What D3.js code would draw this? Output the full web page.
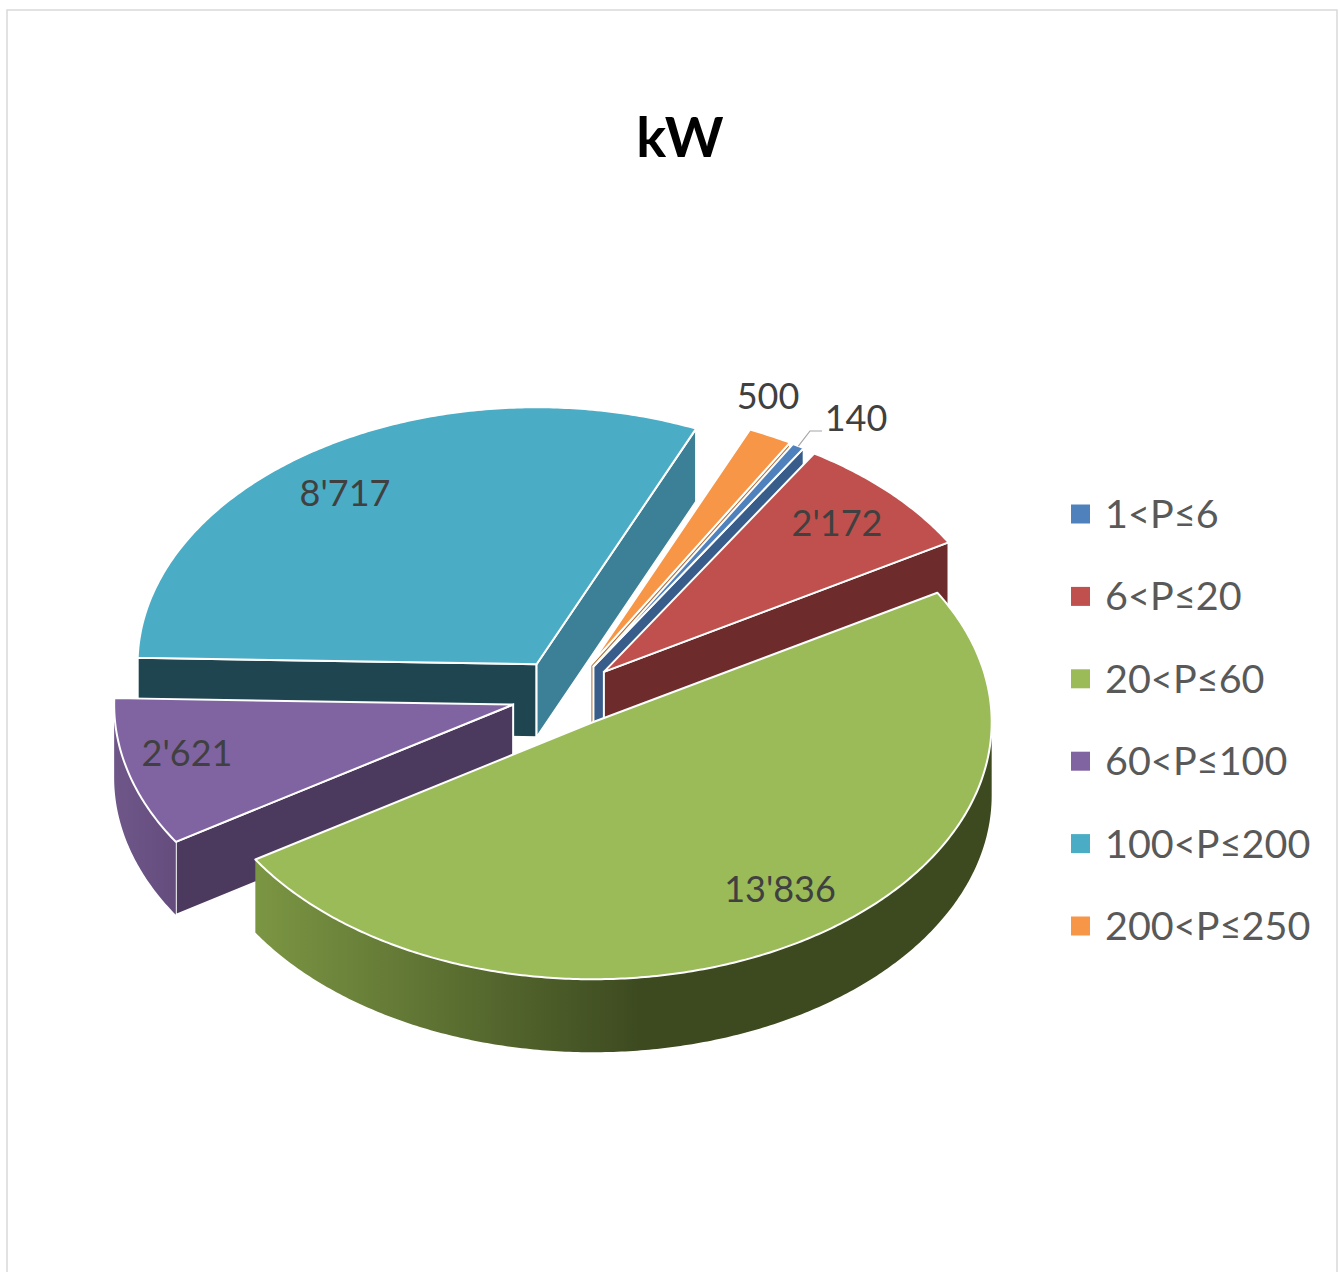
<!DOCTYPE html>
<html lang="en">
<head>
  <meta charset="UTF-8">
  <title>kW</title>
  <style>
    html, body { margin: 0; padding: 0; background: #fff; overflow: hidden; }
    svg { display: block; font-family: Lato, "Open Sans", sans-serif; }
  </style>
</head>
<body>
<div id="chart"></div>

<script src="https://cdnjs.cloudflare.com/ajax/libs/d3/7.8.5/d3.min.js"></script>
<script>
  // data, in legend order
  const categories = ['1<P≤6', '6<P≤20', '20<P≤60', '60<P≤100', '100<P≤200', '200<P≤250'];
  const values = [140, 2172, 13836, 2621, 8717, 500];
  const valueLabels = ["140", "2'172", "13'836", "2'621", "8'717", "500"];

  const topColors = ['#4f81bd', '#c0504d', '#9bbb59', '#8064a2', '#4bacc6', '#f79646'];
  const endColors = ['#385d8a', '#6e2b2b', '#3d4a20', '#4b3a5e', '#3b8096', '#b5763c'];
  const startColors = ['#385d8a', '#6e2b2b', '#3d4a20', '#4b3a5e', '#1f4650', '#b5763c'];

  const width = 1340, height = 1272;
  const center = {x: 567, y: 695}, rx = 399, ry = 257, depth = 73;
  // how far each slice is pulled out, same order as values
  const explode = [0.129, 0.129, 0.124, 0.14, 0.142, 0.13];

  // where the value labels sit (centre of the text), same order as values
  const labelX = [856, 837, 780, 187, 345, 768];
  const labelY = [418, 523, 889, 753, 493, 396];

  const svg = d3.select('#chart').append('svg')
    .attr('width', width)
    .attr('height', height);

  const defs = svg.append('defs');

  // outer wall shading for the two slices that show one
  const wallX = d3.scaleLinear().domain([0, 1]).range([254, 640]);
  const greenWall = defs.append('linearGradient')
    .attr('id', 'wall-2')
    .attr('gradientUnits', 'userSpaceOnUse')
    .attr('x1', wallX(0)).attr('x2', wallX(1)).attr('y1', 0).attr('y2', 0);
  greenWall.append('stop').attr('offset', 0).attr('stop-color', '#7b9643');
  greenWall.append('stop').attr('offset', 1).attr('stop-color', '#3d4a20');

  const purpleWall = defs.append('linearGradient')
    .attr('id', 'wall-3')
    .attr('gradientUnits', 'userSpaceOnUse')
    .attr('x1', 116).attr('x2', 178).attr('y1', 0).attr('y2', 0);
  purpleWall.append('stop').attr('offset', 0).attr('stop-color', '#6e5689');
  purpleWall.append('stop').attr('offset', 1).attr('stop-color', '#644d7d');

  // chart frame, runs off the bottom of the picture
  svg.append('rect')
    .attr('x', 7).attr('y', 10)
    .attr('width', 1330).attr('height', 1300)
    .attr('fill', '#fff')
    .attr('stroke', '#d9d9d9')
    .attr('stroke-width', 1.5);

  svg.append('text')
    .attr('x', 680).attr('y', 157)
    .attr('text-anchor', 'middle')
    .attr('font-size', 56)
    .attr('font-weight', 700)
    .attr('fill', '#000')
    .text('kW');

  // unit circle -> flattened pie
  const xScale = d3.scaleLinear().domain([-1, 1]).range([center.x - rx, center.x + rx]);
  const yScale = d3.scaleLinear().domain([-1, 1]).range([center.y - ry, center.y + ry]);

  const slices = d3.pie()
    .sort(null)
    .startAngle(Math.PI / 6)
    .endAngle(Math.PI / 6 + 2 * Math.PI)(values);

  slices.forEach((s, i) => {
    s.mid = (s.startAngle + s.endAngle) / 2;
    s.ox = explode[i] * Math.sin(s.mid);
    s.oy = -explode[i] * Math.cos(s.mid);
  });

  const project = (s, r, a, drop) => [
    xScale(s.ox + r * Math.sin(a)),
    yScale(s.oy - r * Math.cos(a)) + (drop || 0)
  ];

  const arcPoints = (s, from, to, drop) => {
    const n = Math.max(2, Math.ceil((to - from) / 0.01));
    return d3.range(n + 1).map(i => project(s, 1, from + (to - from) * i / n, drop));
  };

  const line = d3.line();

  // back to front
  const paintOrder = [4, 3, 5, 0, 1, 2];

  paintOrder.forEach(i => {
    const s = slices[i];
    const g = svg.append('g');

    // start cut
    if (Math.sin(s.startAngle) < 0) {
      g.append('path')
        .attr('d', line([
          project(s, 0, 0), project(s, 1, s.startAngle),
          project(s, 1, s.startAngle, depth), project(s, 0, 0, depth)
        ]) + 'Z')
        .attr('fill', startColors[i])
        .attr('stroke', '#fff')
        .attr('stroke-width', 2);
    }
    // end cut
    if (Math.sin(s.endAngle) > 0) {
      g.append('path')
        .attr('d', line([
          project(s, 0, 0), project(s, 1, s.endAngle),
          project(s, 1, s.endAngle, depth), project(s, 0, 0, depth)
        ]) + 'Z')
        .attr('fill', endColors[i])
        .attr('stroke', '#fff')
        .attr('stroke-width', 2);
    }
    // outer wall, only the front half of the rim shows
    const wallFrom = Math.max(s.startAngle, Math.PI / 2);
    const wallTo = Math.min(s.endAngle, 3 * Math.PI / 2);
    if (wallTo > wallFrom) {
      const upper = arcPoints(s, wallFrom, wallTo, 0);
      const lower = arcPoints(s, wallFrom, wallTo, depth).reverse();
      g.append('path')
        .attr('d', line(upper.concat(lower)) + 'Z')
        .attr('fill', 'url(#wall-' + i + ')');
    }
    // top face
    g.append('path')
      .attr('d', line([project(s, 0, 0)].concat(arcPoints(s, s.startAngle, s.endAngle, 0))) + 'Z')
      .attr('fill', topColors[i])
      .attr('stroke', '#fff')
      .attr('stroke-width', 2)
      .attr('stroke-linejoin', 'round');
  });

  // leader line of the small slice
  const leaderStart = project(slices[0], 1, slices[0].mid);
  svg.append('path')
    .attr('d', line([leaderStart, [810, 431], [822, 431]]))
    .attr('fill', 'none')
    .attr('stroke', '#a6a6a6')
    .attr('stroke-width', 1.2);

  svg.append('g').selectAll('text')
    .data(valueLabels)
    .join('text')
    .attr('x', (d, i) => labelX[i])
    .attr('y', (d, i) => labelY[i])
    .attr('dy', '0.36em')
    .attr('text-anchor', 'middle')
    .attr('font-size', 36)
    .attr('fill', '#404040')
    .text(d => d);

  // legend
  const legendY = d3.scalePoint().domain(categories).range([514, 926]);
  const legend = svg.append('g').selectAll('g')
    .data(categories)
    .join('g')
    .attr('transform', d => 'translate(1071,' + legendY(d) + ')');

  legend.append('rect')
    .attr('x', 0).attr('y', -9.5)
    .attr('width', 19).attr('height', 19)
    .attr('fill', (d, i) => topColors[i]);

  legend.append('text')
    .attr('x', 34)
    .attr('y', 14)
    .attr('font-size', 39.5)
    .attr('fill', '#595959')
    .selectAll('tspan')
    .data(d => d.split(/([<≤])/))
    .join('tspan')
    .attr('font-size', d => /[<≤]/.test(d) ? 38 : 39.5)
    .text(d => d);
</script>
</body>
</html>
